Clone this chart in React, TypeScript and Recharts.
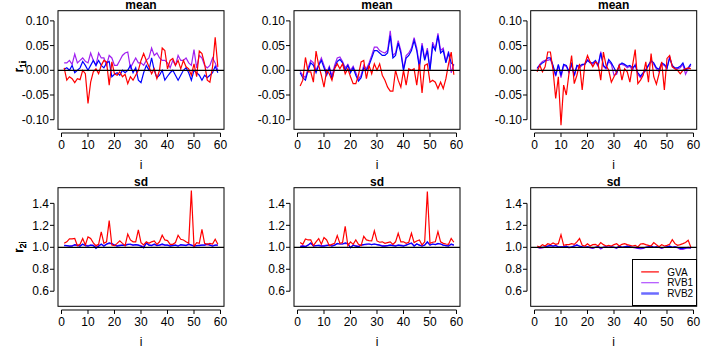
import React from 'react';
import { LineChart, Line, XAxis, YAxis, ReferenceLine, Legend } from 'recharts';

// x positions (i = 1..59)
const idx = [
  1, 2, 3, 4, 5, 6, 7, 8, 9, 10, 11, 12, 13, 14, 15, 16, 17, 18, 19, 20,
  21, 22, 23, 24, 25, 26, 27, 28, 29, 30, 31, 32, 33, 34, 35, 36, 37, 38, 39, 40,
  41, 42, 43, 44, 45, 46, 47, 48, 49, 50, 51, 52, 53, 54, 55, 56, 57, 58, 59
];

// ---- mean, column 1
const mean1Gva = [
  0.005, -0.02, -0.013, -0.017, -0.025, -0.017, -0.019, 0.0, -0.007, -0.067,
  -0.024, -0.003, 0.003, -0.007, 0.01, 0.02, 0.017, -0.03, 0.017, -0.007,
  -0.01, -0.003, -0.013, -0.008, -0.027, -0.013, -0.02, -0.01, 0.0, 0.02,
  0.034, 0.02, 0.007, -0.007, 0.003, -0.017, 0.0, 0.045, 0.04, 0.003,
  0.02, 0.024, 0.01, 0.02, 0.003, 0.02, 0.007, 0.003, -0.01, 0.013,
  -0.013, 0.039, 0.034, 0.013, -0.02, -0.024, 0.007, 0.067, 0.007
];
const mean1Rvb1 = [
  0.015, 0.015, 0.02, 0.012, 0.033, 0.015, 0.02, 0.025, 0.018, 0.015,
  0.035, 0.02, 0.01, 0.035, 0.025, 0.025, 0.01, 0.03, 0.025, 0.01,
  0.01, 0.02, 0.03, 0.035, 0.037, 0.005, 0.015, 0.025, 0.015, 0.015,
  0.01, 0.02, 0.025, 0.045, 0.03, 0.035, 0.025, 0.02, 0.02, 0.015,
  0.005, 0.02, 0.01, 0.03, 0.02, 0.02, 0.025, 0.015, 0.01, 0.042,
  0.005, 0.03, 0.025, 0.01, 0.005, 0.01, 0.025, 0.015, 0.0
];
const mean1Rvb2 = [
  0.002, 0.005, 0.0, 0.01, -0.005, 0.0, 0.005, 0.018, 0.01, 0.0,
  0.01, 0.02, 0.01, 0.02, 0.01, 0.005, 0.015, 0.018, -0.013, -0.008,
  -0.005, -0.01, 0.0, -0.005, 0.0, 0.01, -0.005, 0.005, -0.02, -0.025,
  -0.005, 0.01, 0.0, 0.025, 0.0, -0.015, -0.01, 0.0, -0.02, -0.012,
  -0.005, 0.0, -0.01, -0.02, -0.01, 0.0, 0.005, -0.005, -0.02, 0.0,
  -0.005, -0.01, -0.02, -0.01, -0.015, -0.01, -0.005, 0.008, -0.005
];

// ---- mean, column 2
const mean2Gva = [
  -0.032, -0.02, 0.026, -0.003, -0.003, -0.024, 0.039, 0.01, -0.01, -0.034,
  0.0, -0.007, -0.02, 0.003, 0.013, 0.003, 0.013, -0.007, 0.003, -0.013,
  -0.027, -0.027, -0.01, 0.017, 0.02, -0.017, 0.01, -0.007, 0.013, 0.0,
  0.013, -0.01, -0.02, -0.034, -0.042, -0.042, 0.0, -0.02, -0.034, 0.0,
  -0.03, 0.003, 0.0, 0.003, -0.03, 0.013, -0.046, 0.01, 0.013, -0.024,
  -0.02, -0.024, -0.037, -0.024, -0.037, -0.017, 0.013, 0.037, -0.009
];
const mean2Rvb1 = [
  -0.002, -0.01, -0.015, 0.005, 0.02, 0.015, 0.0, 0.012, 0.025, 0.01,
  -0.005, 0.008, -0.012, 0.01, 0.025, 0.027, 0.018, 0.005, 0.012, 0.0,
  0.008, -0.005, -0.018, -0.01, 0.01, 0.003, 0.015, 0.03, 0.047, 0.047,
  0.04, 0.037, 0.035, 0.04, 0.08, 0.03, 0.035, 0.06, 0.04, 0.003,
  0.03, 0.035, 0.045, 0.066, 0.045, 0.01, 0.055, 0.023, 0.045, 0.003,
  0.057, 0.043, 0.075, 0.04, 0.045, 0.018, 0.038, -0.005, 0.012
];
const mean2Rvb2 = [
  -0.005, -0.015, -0.02, 0.0, 0.015, 0.01, -0.005, 0.01, 0.02, 0.005,
  -0.01, 0.005, -0.018, 0.005, 0.018, 0.022, 0.015, 0.0, 0.01, -0.005,
  0.005, -0.01, -0.022, -0.015, 0.005, 0.0, 0.01, 0.025, 0.04, 0.04,
  0.035, 0.03, 0.03, 0.035, 0.07, 0.025, 0.03, 0.055, 0.035, 0.0,
  0.025, 0.03, 0.04, 0.06, 0.04, 0.005, 0.05, 0.02, 0.04, 0.0,
  0.05, 0.04, 0.07, 0.035, 0.04, 0.015, 0.035, 0.015, 0.01
];

// ---- mean, column 3
const mean3Gva = [
  -0.003, 0.01, -0.003, 0.007, 0.037, 0.037, 0.0, -0.057, -0.013, -0.111,
  -0.03, -0.05, -0.007, 0.03, -0.027, -0.01, 0.013, -0.04, 0.013, 0.03,
  0.017, 0.007, 0.017, 0.013, -0.02, 0.037, 0.01, 0.0, -0.024, -0.013,
  -0.003, 0.01, -0.02, 0.003, -0.003, -0.024, 0.01, 0.042, -0.027, -0.02,
  -0.01, 0.017, -0.024, 0.034, -0.013, -0.028, -0.007, 0.017, -0.04, 0.024,
  0.03, 0.007, 0.003, 0.0, -0.007, 0.0, 0.003, 0.005, 0.003
];
const mean3Rvb1 = [
  0.003, 0.012, 0.018, 0.02, 0.02, 0.022, 0.008, -0.012, 0.01, -0.015,
  0.01, 0.008, -0.005, 0.012, -0.012, 0.008, 0.005, 0.01, 0.013, 0.022,
  0.017, 0.012, 0.018, 0.008, 0.038, 0.008, 0.003, 0.018, 0.012, -0.01,
  -0.008, 0.012, 0.012, 0.01, 0.005, 0.008, 0.0, 0.012, -0.008, -0.015,
  -0.008, 0.002, 0.01, 0.018, 0.012, 0.003, -0.003, 0.012, 0.01, 0.003,
  0.028, 0.008, 0.003, 0.003, 0.005, 0.012, -0.008, 0.003, 0.01
];
const mean3Rvb2 = [
  0.005, 0.01, 0.015, 0.018, 0.025, 0.025, 0.01, -0.01, 0.012, -0.01,
  0.012, 0.01, -0.002, 0.013, -0.01, 0.01, 0.008, 0.012, 0.012, 0.02,
  0.015, 0.015, 0.02, 0.01, 0.035, 0.01, 0.005, 0.022, 0.015, 0.005,
  -0.005, 0.01, 0.015, 0.012, 0.008, 0.01, 0.005, 0.01, -0.005, -0.012,
  -0.005, 0.0, 0.01, 0.02, 0.015, 0.005, 0.002, 0.015, 0.012, 0.005,
  0.025, 0.01, 0.005, 0.005, 0.008, 0.015, 0.0, 0.005, 0.013
];

// ---- sd, column 1
const sd1Gva = [
  1.036, 1.05, 1.076, 1.076, 1.08, 1.015, 1.027, 1.08, 1.021, 1.095,
  1.08, 1.04, 1.015, 1.027, 1.14, 1.036, 1.05, 1.243, 1.021, 1.015,
  1.036, 1.058, 1.036, 1.015, 1.12, 1.067, 1.05, 1.05, 1.158, 1.043,
  1.021, 1.05, 1.036, 1.05, 1.058, 1.027, 1.05, 1.11, 1.067, 1.061,
  1.027, 1.027, 1.043, 1.11, 1.073, 1.067, 1.05, 1.036, 1.517, 1.006,
  1.043, 1.036, 1.164, 1.036, 1.027, 1.036, 1.03, 1.073, 1.027
];
const sd1Rvb1 = [
  1.02, 1.015, 1.012, 1.015, 1.02, 1.015, 1.015, 1.025, 1.02, 1.015,
  1.02, 1.02, 1.0, 1.015, 1.025, 1.015, 1.025, 1.035, 1.03, 1.02,
  1.015, 1.02, 1.02, 1.02, 1.03, 1.025, 1.02, 1.025, 1.02, 1.015,
  1.005, 1.035, 1.02, 1.02, 1.025, 1.02, 1.02, 1.025, 1.02, 1.02,
  1.015, 1.02, 1.02, 1.015, 1.02, 1.02, 1.02, 1.025, 1.02, 1.015,
  1.015, 1.02, 1.02, 1.02, 1.025, 1.02, 1.015, 1.02, 1.02
];
const sd1Rvb2 = [
  1.015, 1.015, 1.01, 1.01, 1.025, 1.02, 1.01, 1.03, 1.015, 1.01,
  1.02, 1.015, 0.99, 1.01, 1.03, 1.01, 1.03, 1.04, 1.035, 1.02,
  1.01, 1.015, 1.02, 1.015, 1.025, 1.03, 1.02, 1.025, 1.02, 1.01,
  0.995, 1.04, 1.02, 1.015, 1.03, 1.015, 1.02, 1.03, 1.02, 1.02,
  1.01, 1.015, 1.02, 1.01, 1.025, 1.02, 1.015, 1.03, 1.02, 1.01,
  1.015, 1.015, 1.02, 1.02, 1.03, 1.02, 1.01, 1.02, 1.02
];

// ---- sd, column 2
const sd2Gva = [
  1.043, 1.027, 1.076, 1.067, 1.067, 1.015, 1.05, 1.08, 1.027, 1.088,
  1.067, 1.015, 1.027, 1.036, 1.106, 1.036, 1.043, 1.19, 1.015, 1.05,
  1.027, 1.067, 1.027, 1.015, 1.1, 1.067, 1.061, 1.058, 1.15, 1.058,
  1.046, 1.05, 1.036, 1.043, 1.05, 1.027, 1.05, 1.128, 1.05, 1.05,
  1.036, 1.046, 1.128, 1.043, 1.058, 1.067, 1.021, 1.05, 1.508, 1.036,
  1.046, 1.05, 1.143, 1.05, 1.036, 1.03, 1.027, 1.08, 1.046
];
const sd2Rvb1 = [
  1.01, 1.015, 1.01, 1.02, 1.035, 1.015, 1.015, 1.02, 1.015, 1.015,
  1.02, 1.02, 1.015, 1.02, 1.03, 1.03, 1.03, 1.035, 1.03, 1.0,
  1.02, 1.015, 1.01, 1.02, 1.025, 1.025, 1.03, 1.025, 1.03, 1.025,
  1.02, 1.015, 1.015, 1.015, 1.02, 1.02, 1.015, 1.02, 1.02, 1.015,
  1.02, 1.03, 1.035, 1.015, 1.03, 1.02, 1.015, 1.02, 1.045, 1.02,
  1.03, 1.025, 1.03, 1.03, 1.02, 1.015, 1.015, 1.025, 1.02
];
const sd2Rvb2 = [
  1.005, 1.01, 1.005, 1.02, 1.04, 1.01, 1.015, 1.015, 1.01, 1.01,
  1.015, 1.02, 1.01, 1.02, 1.035, 1.03, 1.03, 1.04, 1.035, 0.995,
  1.02, 1.01, 1.005, 1.02, 1.025, 1.03, 1.03, 1.025, 1.03, 1.025,
  1.02, 1.01, 1.01, 1.015, 1.02, 1.015, 1.01, 1.02, 1.015, 1.01,
  1.02, 1.03, 1.04, 1.01, 1.03, 1.02, 1.01, 1.02, 1.05, 1.02,
  1.03, 1.025, 1.035, 1.03, 1.02, 1.015, 1.01, 1.03, 1.02
];

// ---- sd, column 3
const sd3Gva = [
  1.012, 1.003, 1.024, 1.012, 1.033, 1.024, 1.04, 1.027, 1.033, 1.115,
  1.018, 1.024, 1.024, 1.033, 1.027, 1.049, 1.08, 1.018, 1.012, 1.033,
  1.012, 1.024, 1.027, 1.012, 1.043, 1.024, 1.012, 1.018, 1.012, 1.024,
  1.033, 1.012, 1.027, 1.033, 1.024, 1.018, 1.012, 1.018, 1.003, 1.03,
  1.033, 1.024, 1.018, 1.012, 1.043, 1.024, 1.006, 1.024, 1.012, 1.018,
  1.027, 1.07, 1.033, 1.018, 1.024, 1.033, 1.043, 1.064, 1.0
];
const sd3Rvb1 = [
  1.0, 0.99, 0.995, 1.0, 1.01, 1.02, 1.01, 1.02, 1.0, 1.005,
  1.005, 1.01, 0.995, 1.0, 1.015, 1.025, 1.01, 1.0, 1.0, 1.005,
  0.995, 0.99, 1.0, 1.005, 0.985, 1.0, 1.005, 1.0, 1.005, 1.0,
  0.99, 1.01, 1.0, 1.005, 1.01, 1.005, 1.0, 0.995, 0.99, 0.985,
  0.99, 1.0, 1.005, 1.01, 1.0, 1.005, 1.0, 0.99, 1.0, 1.005,
  1.01, 1.0, 1.005, 0.995, 0.98, 0.98, 0.99, 0.995, 0.99
];
const sd3Rvb2 = [
  1.0, 1.0, 1.0, 1.005, 1.01, 1.015, 1.01, 1.015, 1.005, 1.005,
  1.005, 1.01, 1.0, 1.005, 1.01, 1.02, 1.01, 1.005, 1.0, 1.005,
  1.0, 0.995, 1.0, 1.005, 0.995, 1.0, 1.005, 1.0, 1.005, 1.0,
  0.995, 1.01, 1.0, 1.005, 1.01, 1.005, 1.0, 1.0, 0.995, 0.995,
  0.995, 1.0, 1.005, 1.01, 1.0, 1.005, 1.0, 0.995, 1.0, 1.005,
  1.01, 1.0, 1.005, 1.0, 0.99, 0.99, 0.995, 1.0, 0.995
];

const xTicks = [0, 10, 20, 30, 40, 50, 60];
const meanTicks = [-0.1, -0.05, 0, 0.05, 0.1];
const sdTicks = [0.6, 0.8, 1.0, 1.2, 1.4];

const RED = '#ff0000';
const PURPLE = '#a020f0';
const BLUE = '#0000ff';

// draw order: purple, blue, red on top
const SERIES = [
  { key: 'rvb1', name: 'RVB1', color: PURPLE },
  { key: 'rvb2', name: 'RVB2', color: BLUE },
  { key: 'gva', name: 'GVA', color: RED }
];
const LEGEND = [
  { name: 'GVA', color: RED, width: 1.2 },
  { name: 'RVB1', color: '#b050ff', width: 1.2 },
  { name: 'RVB2', color: '#6b6bff', width: 2.5 }
];

const BOX_W = 166;
const BOX_H = 118.6;
const COL_X = [58, 294, 530.7];
const ROW_Y = [10.7, 187.7];
const X_DOMAIN = [-1.32, 61.32];
const MEAN_DOMAIN = [-0.12, 0.12];
const SD_DOMAIN = [0.46, 1.54];
const PAD_L = 55;
const PAD_T = 5;
const X_GAP = 3.4;
const Y_GAP = 4;

const build = (gva, rvb1, rvb2) =>
  idx.map((i, k) => ({ i, gva: gva[k], rvb1: rvb1[k], rvb2: rvb2[k] }));

const panels = [
  { col: 0, row: 0, title: 'mean', sub: '1i', data: build(mean1Gva, mean1Rvb1, mean1Rvb2), domain: MEAN_DOMAIN, ticks: meanTicks, digits: 2, base: 0 },
  { col: 1, row: 0, title: 'mean', sub: '1i', data: build(mean2Gva, mean2Rvb1, mean2Rvb2), domain: MEAN_DOMAIN, ticks: meanTicks, digits: 2, base: 0 },
  { col: 2, row: 0, title: 'mean', sub: '1i', data: build(mean3Gva, mean3Rvb1, mean3Rvb2), domain: MEAN_DOMAIN, ticks: meanTicks, digits: 2, base: 0 },
  { col: 0, row: 1, title: 'sd', sub: '2i', data: build(sd1Gva, sd1Rvb1, sd1Rvb2), domain: SD_DOMAIN, ticks: sdTicks, digits: 1, base: 1 },
  { col: 1, row: 1, title: 'sd', sub: '2i', data: build(sd2Gva, sd2Rvb1, sd2Rvb2), domain: SD_DOMAIN, ticks: sdTicks, digits: 1, base: 1 },
  { col: 2, row: 1, title: 'sd', sub: '2i', data: build(sd3Gva, sd3Rvb1, sd3Rvb2), domain: SD_DOMAIN, ticks: sdTicks, digits: 1, base: 1, legend: true }
];

const XTick = (props: any) => {
  const { x, y, payload } = props;
  return (
    <g>
      <line x1={x} x2={x} y1={y + X_GAP} y2={y + X_GAP + 4} stroke="#000" strokeWidth={1} />
      <text x={x} y={y + 19} textAnchor="middle" fontSize={12} fill="#000">
        {payload.value}
      </text>
    </g>
  );
};

const makeYTick = (digits: number) => (props: any) => {
  const { x, y, payload } = props;
  return (
    <g>
      <line x1={x - Y_GAP} x2={x - Y_GAP - 4} y1={y} y2={y} stroke="#000" strokeWidth={1} />
      <text x={x - Y_GAP - 5} y={y + 4.2} textAnchor="end" fontSize={12} fill="#000">
        {Number(payload.value).toFixed(digits)}
      </text>
    </g>
  );
};

const renderLegend = () => (
  <div
    style={{
      width: 64.4,
      height: 47,
      border: '1px solid #000',
      boxSizing: 'border-box',
      background: '#fff'
    }}
  >
    <svg width={62} height={45} style={{ display: 'block', overflow: 'visible' }}>
      {LEGEND.map((item, k) => {
        const cy = 11.9 + k * 10.8;
        return (
          <g key={item.name}>
            <line x1={8.2} x2={25.9} y1={cy} y2={cy} stroke={item.color} strokeWidth={item.width} />
            <text x={34.2} y={cy + 3.6} fontSize={10} fill="#000">
              {item.name}
            </text>
          </g>
        );
      })}
    </svg>
  </div>
);

function Panel({ p }: { p: any }) {
  const left = COL_X[p.col];
  const top = ROW_Y[p.row];
  const yGapVal = (X_GAP * (p.domain[1] - p.domain[0])) / BOX_H;
  const xGapVal = (Y_GAP * (X_DOMAIN[1] - X_DOMAIN[0])) / BOX_W;
  const axisY = p.domain[0] - yGapVal;
  const axisX = X_DOMAIN[0] - xGapVal;
  return (
    <div style={{ position: 'absolute', left: left - PAD_L, top: top - PAD_T }}>
      <LineChart
        width={PAD_L + BOX_W + 5}
        height={PAD_T + BOX_H + 45}
        data={p.data}
        margin={{ top: PAD_T, right: 5, left: 0, bottom: 0 }}
      >
        <XAxis
          dataKey="i"
          type="number"
          domain={X_DOMAIN}
          ticks={xTicks}
          interval={0}
          allowDataOverflow
          axisLine={false}
          tickLine={false}
          tickSize={0}
          tickMargin={0}
          height={45}
          tick={(t: any) => <XTick {...t} />}
        />
        <YAxis
          type="number"
          domain={p.domain}
          ticks={p.ticks}
          interval={0}
          allowDataOverflow
          axisLine={false}
          tickLine={false}
          tickSize={0}
          tickMargin={0}
          width={PAD_L}
          tick={makeYTick(p.digits)}
        />
        <ReferenceLine
          segment={[{ x: 0, y: axisY }, { x: 60, y: axisY }]}
          stroke="#000"
          strokeWidth={1}
          ifOverflow="visible"
        />
        <ReferenceLine
          segment={[
            { x: axisX, y: p.ticks[0] },
            { x: axisX, y: p.ticks[p.ticks.length - 1] }
          ]}
          stroke="#000"
          strokeWidth={1}
          ifOverflow="visible"
        />
        {SERIES.map(s => (
          <Line
            key={s.key}
            type="linear"
            dataKey={s.key}
            name={s.name}
            stroke={s.color}
            strokeWidth={1.2}
            dot={false}
            activeDot={false}
            isAnimationActive={false}
          />
        ))}
        <ReferenceLine y={p.base} stroke="#000" strokeWidth={1.2} />
        {p.legend && (
          <Legend
            layout="vertical"
            align="center"
            verticalAlign="middle"
            content={renderLegend}
            wrapperStyle={{
              left: 632.3 - (left - PAD_L),
              top: 259.3 - (top - PAD_T),
              width: 64.4,
              height: 47
            }}
          />
        )}
      </LineChart>
    </div>
  );
}

export default function App() {
  return (
    <div
      style={{
        position: 'absolute',
        left: 0,
        top: 0,
        width: 709,
        height: 354,
        background: '#fff',
        overflow: 'hidden',
        fontFamily: '"Liberation Sans", Arial, Helvetica, sans-serif'
      }}
    >
      {panels.map((p, k) => (
        <Panel key={k} p={p} />
      ))}
      <svg
        width={709}
        height={354}
        style={{ position: 'absolute', left: 0, top: 0, pointerEvents: 'none' }}
      >
        {panels.map((p, k) => {
          const left = COL_X[p.col];
          const top = ROW_Y[p.row];
          const cx = left + BOX_W / 2;
          const cy = top + BOX_H / 2 - (p.row === 0 ? 3.5 : 0);
          return (
            <g key={k}>
              <rect x={left} y={top} width={BOX_W} height={BOX_H} fill="none" stroke="#000" strokeWidth={1} />
              <text x={cx} y={top - 1.6} textAnchor="middle" fontSize={12} fontWeight="bold" fill="#000">
                {p.title}
              </text>
              <text x={cx} y={top + BOX_H + 39.5} textAnchor="middle" fontSize={12} fill="#000">
                i
              </text>
              <text transform={`translate(22.7, ${cy}) rotate(-90)`} textAnchor="middle" fontSize={12} fill="#000">
                <tspan>r</tspan>
                <tspan dy={3} fontSize={9}>
                  {p.sub}
                </tspan>
              </text>
            </g>
          );
        })}
      </svg>
    </div>
  );
}
